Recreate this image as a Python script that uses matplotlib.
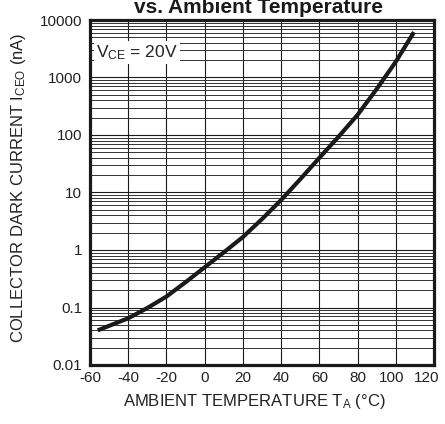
import numpy as np
import matplotlib
matplotlib.use("Agg")
import matplotlib.pyplot as plt
from matplotlib.ticker import LogLocator, FixedLocator
from matplotlib.transforms import ScaledTranslation

plt.rcParams["font.family"] = ["Liberation Sans", "DejaVu Sans"]
plt.rcParams["mathtext.default"] = "regular"

# values
temp_c = [-56, -40, -30, -20, -10, 0, 10, 20, 30, 40, 50, 60, 70, 80, 90, 100, 109.5]
iceo_na = [0.040, 0.065, 0.098, 0.155, 0.275, 0.50, 0.91, 1.68, 3.45, 7.4,
           17.0, 40.0, 93.0, 224.0, 630.0, 1880.0, 6150.0]

x_ticks = [-60, -40, -20, 0, 20, 40, 60, 80, 100, 120]
y_ticks = [0.01, 0.1, 1, 10, 100, 1000, 10000]
y_tick_labels = ["0.01", "0.1", "1", "10", "100", "1000", "10000"]

W, H = 445, 424


def main():
    fig = plt.figure(figsize=(W / 100, H / 100), dpi=100)
    ax = fig.add_axes([90 / W, 1 - 365 / H, 344 / W, 345 / H])

    ax.set_yscale("log")
    ax.set_xlim(-60, 120)
    ax.set_ylim(0.01, 10000)

    ax.xaxis.set_major_locator(FixedLocator(x_ticks))
    ax.yaxis.set_major_locator(FixedLocator(y_ticks))
    ax.yaxis.set_minor_locator(LogLocator(base=10, subs=np.arange(2, 10), numticks=20))
    ax.set_yticklabels(y_tick_labels)
    ax.set_xticklabels([str(t) for t in x_ticks])

    ax.grid(True, which="major", color="#1a1a1a", linewidth=0.8)
    ax.grid(True, which="minor", axis="y", color="#333333", linewidth=0.7)
    ax.tick_params(which="both", length=0, labelsize=11, colors="#222222")
    ax.tick_params(axis="y", pad=5.5)
    ax.tick_params(axis="x", pad=4)

    # last labels are nudged left in the reference so they stay inside
    xlabels = ax.get_xticklabels()
    for lbl, dx in ((xlabels[-2], -4), (xlabels[-1], -7)):
        lbl.set_transform(lbl.get_transform() + ScaledTranslation(dx / 100, 0, fig.dpi_scale_trans))

    for s in ax.spines.values():
        s.set_linewidth(2.3)
        s.set_color("#1a1a1a")

    ax.plot(temp_c, iceo_na, color="#1a1a1a", linewidth=3.0,
            solid_capstyle="butt", zorder=5)

    ax.text(-57, 2700, r"V$_{CE}$ = 20V", fontsize=12.5, color="#222222",
            va="center", ha="left", zorder=6,
            bbox=dict(facecolor="white", edgecolor="none", pad=1.5))

    fig.text(254 / W, 1 - 406 / H, r"AMBIENT TEMPERATURE T$_A$ ($\degree$C)",
             fontsize=12, color="#222222", ha="center", va="baseline")
    fig.text(19 / W, 1 - 188 / H, r"COLLECTOR DARK CURRENT I$_{CEO}$ (nA)",
             fontsize=12, color="#222222", ha="center", va="center", rotation=90)

    fig.text(258 / W, 1 - 13 / H, "vs. Ambient Temperature", fontsize=15,
             fontweight="bold", ha="center", va="baseline", color="#1a1a1a")

    fig.savefig("out.png", dpi=100)


if __name__ == "__main__":
    main()
